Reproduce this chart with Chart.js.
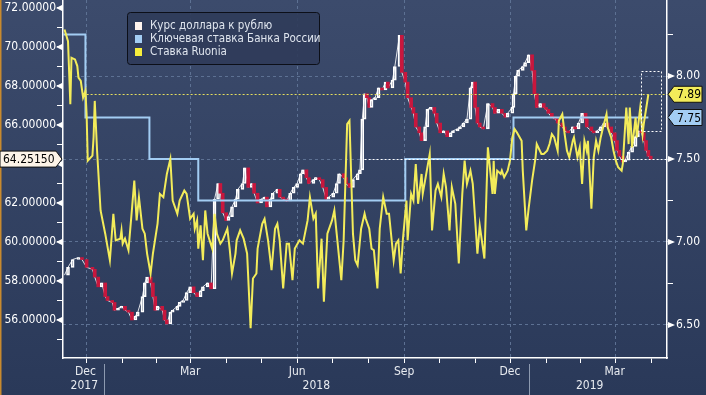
<!DOCTYPE html>
<html>
<head>
<meta charset="utf-8">
<script src="https://cdn.jsdelivr.net/npm/chart.js@4.4.0/dist/chart.umd.min.js"></script>
<style>
  html, body { margin: 0; padding: 0; background: #2f3e5e; }
  canvas { display: block; }
</style>
</head>
<body>
<canvas id="chart" width="706" height="395"></canvas>
<script>
// all x values are days counted from 1 Dec 2017

// USD/RUB closes
const usdDays = [
  -3, 0, 4, 9, 12, 16, 21, 23, 26, 29,
  32, 34, 38, 40, 43, 46, 49, 52, 55, 58,
  60, 64, 66, 68, 71, 73, 75, 77, 81, 83,
  85, 88, 90, 94, 96, 99, 102, 105, 108, 111,
  114, 116, 120, 123, 126, 129, 131, 133, 136, 138,
  141, 144, 146, 150, 152, 155, 158, 160, 163, 166,
  169, 171, 174, 176, 180, 182, 185, 188, 191, 194,
  197, 200, 202, 205, 207, 211, 213, 216, 219, 222,
  224, 228, 231, 233, 237, 239, 242, 245, 249, 251,
  253, 255, 257, 259, 261, 264, 267, 270, 273, 275,
  279, 281, 285, 287, 290, 292, 295, 297, 299, 302,
  304, 307, 309, 312, 315, 317, 320, 323, 326, 329,
  331, 335, 337, 340, 343, 346, 348, 350, 352, 354,
  357, 361, 365, 367, 370, 373, 376, 378, 382, 383,
  385, 387, 391, 393, 396, 399, 401, 403, 406, 409,
  411, 413, 416, 419, 421, 425, 427, 430, 434, 436,
  439, 442, 445, 446, 450, 452, 455, 458, 461, 464,
  467, 470, 472, 474, 477, 479, 482, 485, 488, 490,
  493, 495, 497, 499, 501
];
const usdClose = [
  58.3, 58.7, 59.1, 59.2, 59.1, 58.7, 58.6, 58.2, 57.7, 57.9,
  57.2, 57.0, 56.9, 56.5, 56.6, 56.7, 56.5, 56.4, 56.0, 56.2,
  56.4, 57.2, 57.9, 58.2, 57.9, 57.2, 56.5, 56.7, 56.5, 56.0,
  55.8, 56.4, 56.5, 56.7, 56.9, 57.0, 57.4, 57.7, 57.4, 57.2,
  57.5, 57.7, 57.9, 57.6, 62.2, 63.0, 62.5, 61.5, 61.1, 61.3,
  61.8, 62.2, 62.7, 63.0, 63.8, 62.8, 63.0, 62.5, 62.0, 62.2,
  62.3, 61.8, 62.2, 62.5, 62.7, 62.3, 62.2, 62.1, 62.5, 62.8,
  63.0, 63.5, 63.7, 63.3, 63.0, 63.2, 63.3, 63.2, 62.8, 62.2,
  62.3, 62.5, 63.0, 63.5, 63.3, 63.0, 62.8, 63.2, 63.5, 63.7,
  66.3, 67.6, 67.4, 66.9, 67.3, 67.4, 67.9, 67.8, 68.2, 67.9,
  68.3, 69.0, 70.6, 68.7, 68.2, 67.4, 66.9, 66.6, 65.9, 65.6,
  65.2, 65.9, 66.8, 66.9, 66.6, 66.1, 65.6, 65.7, 65.4, 65.6,
  65.7, 65.8, 65.9, 66.1, 66.3, 67.9, 68.2, 66.9, 66.1, 65.9,
  65.8, 67.1, 66.9, 66.6, 66.8, 66.6, 66.4, 66.6, 66.9, 67.6,
  68.5, 68.8, 69.0, 69.2, 69.6, 68.8, 67.6, 66.9, 67.1, 66.9,
  66.8, 66.6, 66.4, 66.3, 66.1, 65.9, 65.7, 65.6, 65.9, 65.8,
  66.1, 66.6, 66.3, 65.9, 65.7, 65.6, 65.7, 65.9, 66.1, 65.9,
  65.6, 65.2, 64.7, 64.4, 64.1, 64.2, 64.6, 64.9, 65.4, 65.7,
  65.6, 65.2, 64.7, 64.4, 64.2515
];

// key rate of the Bank of Russia, value from that day on
const keyRateDays = [-4, 15, 70, 112, 290, 383, 499];
const keyRate = [8.25, 7.75, 7.50, 7.25, 7.50, 7.75, 7.75];

// Ruonia
const ruoniaDays = [
  -3, 0, 2, 3, 6, 8, 9, 11, 13, 15,
  16, 17, 21, 22, 23, 25, 28, 32, 36, 39,
  41, 45, 46, 47, 49, 52, 55, 57, 59, 61,
  64, 66, 68, 71, 73, 77, 79, 82, 85, 88,
  90, 94, 96, 100, 102, 105, 108, 109, 111, 112,
  114, 116, 118, 120, 124, 126, 128, 131, 133, 137,
  139, 141, 144, 145, 148, 151, 154, 157, 159, 162,
  163, 167, 169, 172, 175, 178, 180, 182, 185, 188,
  190, 193, 195, 199, 202, 206, 208, 211, 213, 215,
  218, 220, 223, 227, 229, 231, 235, 237, 240, 242,
  245, 247, 249, 252, 255, 256, 259, 261, 263, 266,
  268, 271, 274, 276, 280, 282, 284, 286, 288, 291,
  292, 295, 297, 299, 301, 304, 305, 308, 311, 313,
  316, 318, 321, 323, 325, 328, 330, 333, 336, 339,
  341, 343, 346, 348, 350, 352, 354, 358, 361, 365,
  366, 367, 369, 372, 373, 375, 378, 380, 382, 384,
  386, 390, 391, 394, 396, 399, 402, 403, 407, 409,
  412, 414, 416, 418, 421, 422, 425, 427, 429, 431,
  434, 435, 438, 440, 442, 444, 446, 447, 450, 452,
  454, 456, 458, 460, 463, 464, 467, 469, 471, 473,
  476, 477, 480, 482, 483, 485, 488, 489, 492, 494,
  495, 499
];
const ruoniaRate = [
  8.28, 8.21, 7.83, 8.11, 8.10, 8.06, 7.99, 7.97, 7.87, 7.91,
  7.77, 7.49, 7.52, 7.63, 7.85, 7.55, 7.19, 7.05, 6.89, 7.17,
  7.01, 7.02, 7.07, 6.99, 7.02, 6.95, 7.20, 7.37, 7.13, 7.27,
  7.08, 7.05, 6.93, 6.81, 6.93, 7.11, 7.29, 7.27, 7.41, 7.50,
  7.25, 7.17, 7.25, 7.31, 7.29, 7.14, 7.17, 7.08, 7.13, 6.96,
  7.10, 6.89, 7.19, 7.05, 6.96, 7.17, 7.05, 6.99, 7.01, 7.08,
  6.96, 6.81, 6.93, 7.01, 7.07, 7.02, 6.93, 6.48, 6.78, 6.81,
  6.96, 7.11, 7.14, 7.01, 6.83, 7.08, 7.11, 7.01, 6.72, 6.99,
  6.99, 6.77, 6.96, 7.01, 6.99, 7.13, 7.27, 7.14, 7.17, 6.72,
  7.02, 6.64, 7.05, 7.13, 7.19, 7.05, 6.77, 7.01, 7.71, 7.73,
  7.05, 6.89, 6.86, 7.08, 7.17, 7.14, 7.08, 6.96, 6.95, 6.72,
  7.08, 7.27, 7.17, 7.17, 6.89, 6.99, 7.01, 6.81, 7.02, 7.25,
  7.01, 7.29, 7.25, 7.47, 7.23, 7.41, 7.29, 7.41, 7.53, 7.07,
  7.31, 7.35, 7.27, 7.41, 7.33, 7.07, 7.33, 7.23, 6.87, 7.29,
  7.49, 7.35, 7.43, 7.35, 7.14, 6.93, 7.10, 6.90, 7.57, 7.29,
  7.49, 7.29, 7.43, 7.41, 7.43, 7.39, 7.43, 7.49, 7.63, 7.68,
  7.66, 7.61, 7.43, 7.07, 7.20, 7.37, 7.51, 7.59, 7.53, 7.53,
  7.55, 7.59, 7.65, 7.63, 7.55, 7.73, 7.77, 7.65, 7.55, 7.51,
  7.61, 7.63, 7.51, 7.57, 7.35, 7.61, 7.55, 7.61, 7.20, 7.51,
  7.61, 7.55, 7.63, 7.69, 7.77, 7.69, 7.63, 7.55, 7.49, 7.45,
  7.43, 7.47, 7.81, 7.59, 7.81, 7.57, 7.75, 7.63, 7.81, 7.65,
  7.71, 7.89
];

// axes
const monthStarts = [0, 31, 62, 90, 121, 151, 182, 212, 243, 274, 304, 335, 365, 396, 427, 455, 486];
const quarterStarts = [31, 121, 212, 304, 396, 486];
const monthLabels = ['Dec', 'Mar', 'Jun', 'Sep', 'Dec', 'Mar'];
const monthLabelDays = [15, 105, 197, 289, 380, 470];
const yearLabels = ['2017', '2018', '2019'];
const yearStarts = [31, 396];
const leftTicks = [55, 56, 57, 58, 59, 60, 61, 62, 63, 64, 65, 66, 67, 68, 69, 70, 71, 72];
const rightTicks = [6.5, 6.75, 7.0, 7.25, 7.5, 7.75, 8.0, 8.25];

const legendLabels = ['Курс доллара к рублю', 'Ключевая ставка Банка России', 'Ставка Ruonia'];

const FONT = '"DejaVu Sans Condensed", "Liberation Sans Narrow", "DejaVu Sans", sans-serif';
const GRID = '#5d7193';
const RED = '#c8173d';
const BLUE = '#a3cdf3';
const YELLOW = '#f3ec5a';

// candle bodies: from previous close to close
const candles = usdDays.slice(1).map((d, i) => ({ x: d, y: [usdClose[i], usdClose[i + 1]] }));
const isUp = candles.map(c => c.y[1] >= c.y[0]);

const lastUsd = usdClose[usdClose.length - 1];
const lastRuonia = ruoniaRate[ruoniaRate.length - 1];
const lastKey = keyRate[keyRate.length - 1];


function tagRight(ctx, x, y, text, fill) {
  ctx.beginPath();
  ctx.moveTo(x, y);
  ctx.lineTo(x + 6, y - 8);
  ctx.lineTo(x + 34, y - 8);
  ctx.lineTo(x + 34, y + 8);
  ctx.lineTo(x + 6, y + 8);
  ctx.closePath();
  ctx.fillStyle = fill;
  ctx.fill();
  ctx.strokeStyle = '#111';
  ctx.lineWidth = 1;
  ctx.stroke();
  ctx.fillStyle = '#000';
  ctx.textAlign = 'center';
  ctx.textBaseline = 'middle';
  ctx.fillText(text, x + 21, y + 1);
}

function tagLeft(ctx, x, y, text, fill) {
  ctx.beginPath();
  ctx.moveTo(0, y - 8);
  ctx.lineTo(x - 6, y - 8);
  ctx.lineTo(x, y);
  ctx.lineTo(x - 6, y + 8);
  ctx.lineTo(0, y + 8);
  ctx.closePath();
  ctx.fillStyle = fill;
  ctx.fill();
  ctx.strokeStyle = '#111';
  ctx.lineWidth = 1;
  ctx.stroke();
  ctx.fillStyle = '#000';
  ctx.textAlign = 'left';
  ctx.textBaseline = 'middle';
  ctx.fillText(text, 3, y + 1);
}

// no label padding: the plot runs to the top edge
function fixBox(size) {
  return s => {
    if (s.isHorizontal()) s.height = size; else s.width = size;
    s.paddingTop = 0; s.paddingBottom = 0; s.paddingLeft = 0; s.paddingRight = 0;
  };
}

const decor = {
  id: 'decor',
  beforeDraw(chart) {
    const { ctx, width, height } = chart;
    const g = ctx.createLinearGradient(0, 0, 0, height);
    g.addColorStop(0, '#3c4b6c');
    g.addColorStop(1, '#2a3959');
    ctx.save();
    ctx.fillStyle = g;
    ctx.fillRect(0, 0, width, height);
    ctx.fillStyle = '#c88a2e';
    ctx.fillRect(0, 0, 1.5, height);
    ctx.restore();
  },
  afterDatasetsDraw(chart) {
    const { ctx, chartArea: a } = chart;
    const x = chart.scales.x, yL = chart.scales.yL, yR = chart.scales.yR;
    ctx.save();
    ctx.lineWidth = 1;
    ctx.setLineDash([2, 2]);
    // last Ruonia level
    let y = Math.round(yR.getPixelForValue(lastRuonia)) + 0.5;
    ctx.strokeStyle = '#e6df5c';
    ctx.beginPath(); ctx.moveTo(x.getPixelForValue(16), y); ctx.lineTo(a.right, y); ctx.stroke();
    // last USD level
    y = Math.round(yL.getPixelForValue(lastUsd)) + 0.5;
    ctx.strokeStyle = '#ffffff';
    ctx.beginPath(); ctx.moveTo(x.getPixelForValue(255), y); ctx.lineTo(a.right, y); ctx.stroke();
    // zoom box
    const x1 = x.getPixelForValue(493), x2 = x.getPixelForValue(510);
    const y1 = yR.getPixelForValue(8.03), y2 = yR.getPixelForValue(7.67);
    ctx.strokeRect(Math.round(x1) + 0.5, Math.round(y1) + 0.5, Math.round(x2 - x1), Math.round(y2 - y1));
    ctx.restore();
  },
  afterDraw(chart) {
    const { ctx, chartArea: a } = chart;
    const x = chart.scales.x, yL = chart.scales.yL, yR = chart.scales.yR;
    ctx.save();

    // triangle marks on major ticks
    ctx.fillStyle = '#ffffff';
    leftTicks.filter(v => v % 2 === 0).forEach(v => {
      const y = yL.getPixelForValue(v);
      ctx.beginPath(); ctx.moveTo(a.left - 7, y); ctx.lineTo(a.left - 1, y - 3); ctx.lineTo(a.left - 1, y + 3); ctx.fill();
    });
    rightTicks.filter(v => (v * 2) % 1 === 0).forEach(v => {
      const y = yR.getPixelForValue(v);
      ctx.beginPath(); ctx.moveTo(a.right + 8, y); ctx.lineTo(a.right + 1, y - 3); ctx.lineTo(a.right + 1, y + 3); ctx.fill();
    });

    // month and year labels
    ctx.font = '12px ' + FONT;
    ctx.fillStyle = '#e8ebf0';
    ctx.textAlign = 'center';
    ctx.textBaseline = 'middle';
    monthLabels.forEach((t, i) => ctx.fillText(t, x.getPixelForValue(monthLabelDays[i]), 372));
    const bounds = [usdDays[0], ...yearStarts, usdDays[usdDays.length - 1]];
    yearLabels.forEach((t, i) => {
      const px = (x.getPixelForValue(bounds[i]) + x.getPixelForValue(bounds[i + 1])) / 2;
      ctx.fillText(t, px, 386);
    });
    ctx.strokeStyle = '#8d9ab0';
    ctx.lineWidth = 1;
    yearStarts.forEach(d => {
      const px = Math.round(x.getPixelForValue(d)) + 0.5;
      ctx.beginPath(); ctx.moveTo(px, 364); ctx.lineTo(px, 395); ctx.stroke();
    });

    // value tags
    tagRight(ctx, a.right + 1, yR.getPixelForValue(lastRuonia), lastRuonia.toFixed(2), YELLOW);
    tagRight(ctx, a.right + 1, yR.getPixelForValue(lastKey), lastKey.toFixed(2), BLUE);
    tagLeft(ctx, a.left - 1, yL.getPixelForValue(lastUsd), lastUsd.toFixed(5), '#fdf4e8');

    // legend
    const lx = 127.5, ly = 12.5, lw = 192, lh = 52;
    ctx.beginPath();
    ctx.roundRect(lx, ly, lw, lh, 3);
    ctx.fillStyle = 'rgba(48,60,90,0.92)';
    ctx.fill();
    ctx.strokeStyle = '#0c0f18';
    ctx.lineWidth = 1;
    ctx.stroke();
    const swatches = ['#fff4ee', BLUE, '#f7ee3c'];
    ctx.font = '11.5px ' + FONT;
    ctx.textAlign = 'left';
    legendLabels.forEach((t, i) => {
      const cy = 26 + i * 13;
      ctx.fillStyle = swatches[i];
      ctx.fillRect(135, cy - 4, 7, 8);
      ctx.fillStyle = '#dfe5ee';
      ctx.fillText(t, 150, cy + 0.5);
    });
    ctx.restore();
  }
};

new Chart(document.getElementById('chart'), {
  type: 'line',
  data: {
    datasets: [
      {
        label: legendLabels[2],
        data: ruoniaDays.map((d, i) => ({ x: d, y: ruoniaRate[i] })),
        yAxisID: 'yR',
        borderColor: YELLOW,
        borderWidth: 2,
        pointRadius: 0,
        tension: 0,
        order: 0
      },
      {
        label: legendLabels[1],
        data: keyRateDays.map((d, i) => ({ x: d, y: keyRate[i] })),
        yAxisID: 'yR',
        borderColor: BLUE,
        borderWidth: 2,
        pointRadius: 0,
        stepped: 'before',
        order: 1
      },
      {
        type: 'bar',
        label: legendLabels[0],
        data: candles,
        yAxisID: 'yL',
        barThickness: 3,
        backgroundColor: isUp.map(u => u ? 'rgba(0,0,0,0)' : RED),
        borderColor: isUp.map(u => u ? '#ffffff' : RED),
        borderWidth: isUp.map(u => u ? 1 : 0),
        borderSkipped: false,
        order: 2
      },
      {
        // thin close-to-close trace under the candle bodies
        label: legendLabels[0],
        data: usdDays.map((d, i) => ({ x: d, y: usdClose[i] })),
        yAxisID: 'yL',
        borderColor: 'rgba(255,255,255,0.85)',
        borderWidth: 1,
        pointRadius: 0,
        tension: 0,
        order: 3
      }
    ]
  },
  options: {
    responsive: false,
    animation: false,
    devicePixelRatio: 1,
    layout: { padding: 0 },
    plugins: { legend: { display: false }, tooltip: { enabled: false } },
    scales: {
      x: {
        type: 'linear',
        min: -4.3,
        max: 515,
        offset: false,
        afterBuildTicks: s => { s.ticks = monthStarts.map(v => ({ value: v })); },
        afterFit: fixBox(37),
        ticks: { callback: () => '', autoSkip: false, maxRotation: 0 },
        grid: {
          color: c => (c.tick && quarterStarts.includes(c.tick.value)) ? GRID : 'rgba(0,0,0,0)',
          tickColor: '#ffffff',
          tickLength: 5,
          lineWidth: 1
        },
        border: { color: '#ffffff', width: 1.5, dash: [3, 3] }
      },
      yL: {
        type: 'linear',
        position: 'left',
        min: 54.05,
        max: 72.41,
        afterBuildTicks: s => { s.ticks = leftTicks.map(v => ({ value: v })); },
        afterFit: fixBox(63),
        ticks: {
          callback: v => v % 2 === 0 ? v.toFixed(5) : '',
          color: '#ffffff',
          font: { family: FONT, size: 12 },
          padding: 1,
          autoSkip: false
        },
        grid: { drawOnChartArea: false, tickColor: '#ffffff', tickLength: 6, lineWidth: 1 },
        border: { color: '#ffffff', width: 1.5 }
      },
      yR: {
        type: 'linear',
        position: 'right',
        min: 6.301,
        max: 8.458,
        afterBuildTicks: s => { s.ticks = rightTicks.map(v => ({ value: v })); },
        afterFit: fixBox(39),
        ticks: {
          callback: v => (v * 2) % 1 === 0 ? v.toFixed(2) : '',
          color: '#ffffff',
          font: { family: FONT, size: 12 },
          padding: 3,
          autoSkip: false
        },
        grid: {
          color: c => (c.tick && (c.tick.value * 2) % 1 === 0) ? GRID : 'rgba(0,0,0,0)',
          tickColor: '#ffffff',
          tickLength: 6,
          lineWidth: 1
        },
        border: { color: '#ffffff', width: 1.5, dash: [3, 3] }
      }
    }
  },
  plugins: [decor]
});
</script>
</body>
</html>
